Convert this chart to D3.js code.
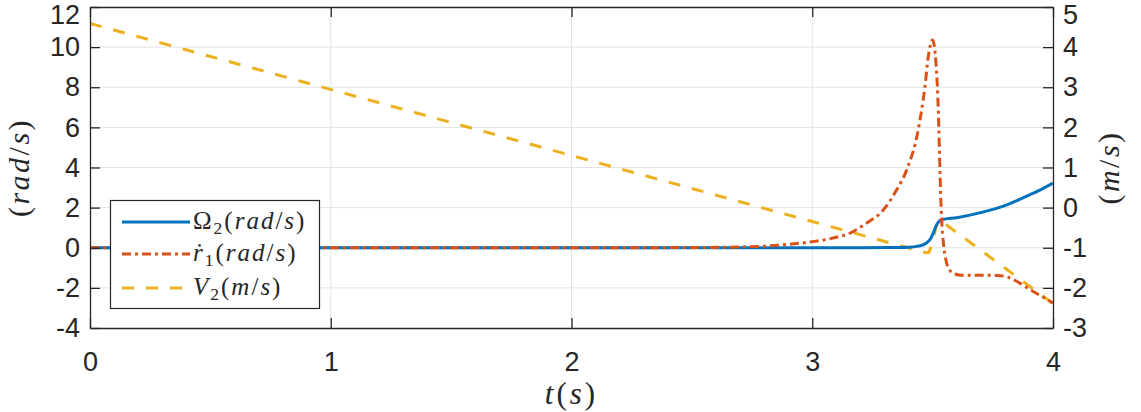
<!DOCTYPE html>
<html>
<head>
<meta charset="utf-8">
<script src="https://cdn.jsdelivr.net/npm/d3@7"></script>
<style>
  html, body { margin: 0; padding: 0; background: #fff; }
  svg { display: block; }
  .tick text { font-family: "Liberation Sans", Arial, Helvetica, sans-serif; font-size: 27px; fill: #262626; }
  .math { font-family: "Liberation Serif", "Times New Roman", serif; fill: #262626; }
</style>
</head>
<body>
<svg id="chart" width="1141" height="412"></svg>
<script>
// ---- Data ----
const xTicks = [0, 1, 2, 3, 4];
const yLeftTicks = [-4, -2, 0, 2, 4, 6, 8, 10, 12];
const yRightTicks = [-3, -2, -1, 0, 1, 2, 3, 4, 5];

// Omega_2 (rad/s), left axis
const omegaT = [0, 1, 2, 3, 3.2, 3.3, 3.4, 3.44, 3.47, 3.49, 3.505, 3.515, 3.525, 3.54, 3.6, 3.7, 3.8, 3.85, 3.9, 3.95, 4.0];
const omegaV = [0, 0, 0, 0, 0.005, 0.01, 0.03, 0.08, 0.2, 0.42, 0.8, 1.1, 1.3, 1.4, 1.5, 1.75, 2.1, 2.35, 2.62, 2.9, 3.22];

// r-dot_1 (rad/s), left axis
const rdotT = [0, 1, 2, 2.5, 2.7, 2.8, 2.9, 3.0, 3.1, 3.157, 3.226, 3.295, 3.35, 3.392, 3.44, 3.468, 3.482, 3.5, 3.514, 3.524, 3.531, 3.537, 3.545, 3.555, 3.57, 3.59, 3.62, 3.7, 3.77, 3.82, 3.86, 3.9, 3.95, 4.0];
const rdotV = [0, 0, 0, 0.01, 0.04, 0.08, 0.17, 0.3, 0.52, 0.73, 1.23, 1.88, 2.88, 3.87, 5.87, 8.03, 9.52, 10.36, 9.19, 6.7, 3.6, 1.5, 0.2, -0.6, -1.1, -1.3, -1.37, -1.37, -1.38, -1.5, -1.75, -2.05, -2.4, -2.76];

// V_2 (m/s), right axis
const vT = [0, 3.47, 3.485, 3.5, 3.515, 3.53, 4.0];
const vV = [4.59, -1.12, -1.12, -0.85, -0.45, -0.31, -2.39];

const legendLabels = ["Ω2", "ṙ1", "V2"];

// ---- Layout ----
const svg = d3.select("#chart");
const L = 90, R = 1053, T = 7, B = 328;
const x = d3.scaleLinear().domain([0, 4]).range([L, R]);
const yL = d3.scaleLinear().domain([-4, 12]).range([B, T]);
const yR = d3.scaleLinear().domain([-3, 5]).range([B, T]);

const axisColor = "#262626";
const gridColor = "#e3e3e3";
const fmt = d => String(d);

// grid
const grid = svg.append("g");
grid.selectAll("line.gx").data(xTicks.slice(1, -1)).join("line")
  .attr("x1", d => x(d)).attr("x2", d => x(d)).attr("y1", T).attr("y2", B)
  .attr("stroke", gridColor).attr("stroke-width", 1);
grid.selectAll("line.gy").data(yLeftTicks.slice(1, -1)).join("line")
  .attr("x1", L).attr("x2", R).attr("y1", d => yL(d)).attr("y2", d => yL(d))
  .attr("stroke", gridColor).attr("stroke-width", 1);

// clip
svg.append("clipPath").attr("id", "clip").append("rect")
  .attr("x", L).attr("y", T).attr("width", R - L).attr("height", B - T);

const plot = svg.append("g").attr("clip-path", "url(#clip)");
const lineL = d3.line().x(d => x(d[0])).y(d => yL(d[1])).curve(d3.curveMonotoneX);
const lineR = d3.line().x(d => x(d[0])).y(d => yR(d[1]));

const colors = ["#0072BD", "#D95319", "#EDB120"];
const dashes = [null, "9,4,3,4", "12,12"];

plot.append("path").datum(d3.zip(vT, vV)).attr("d", lineR)
  .attr("fill", "none").attr("stroke", colors[2]).attr("stroke-width", 3)
  .attr("stroke-dasharray", dashes[2]);
plot.append("path").datum(d3.zip(omegaT, omegaV)).attr("d", lineL)
  .attr("fill", "none").attr("stroke", colors[0]).attr("stroke-width", 3);
plot.append("path").datum(d3.zip(rdotT, rdotV)).attr("d", lineL)
  .attr("fill", "none").attr("stroke", colors[1]).attr("stroke-width", 3)
  .attr("stroke-dasharray", dashes[1]);

// axes
function styleAxis(g) {
  g.select(".domain").attr("stroke", axisColor).attr("stroke-width", 1.3);
  g.selectAll(".tick line").attr("stroke", axisColor).attr("stroke-width", 1.3);
}
const gB = svg.append("g").attr("transform", `translate(0,${B})`)
  .call(d3.axisBottom(x).tickValues(xTicks).tickFormat(fmt).tickSizeInner(-10).tickSizeOuter(0).tickPadding(24));
styleAxis(gB);
const gT = svg.append("g").attr("transform", `translate(0,${T})`)
  .call(d3.axisTop(x).tickValues(xTicks).tickFormat("").tickSizeInner(-10).tickSizeOuter(0));
styleAxis(gT);
const gLft = svg.append("g").attr("transform", `translate(${L},0)`)
  .call(d3.axisLeft(yL).tickValues(yLeftTicks).tickFormat(fmt).tickSizeInner(-10).tickSizeOuter(0).tickPadding(10));
styleAxis(gLft);
const gRt = svg.append("g").attr("transform", `translate(${R},0)`)
  .call(d3.axisRight(yR).tickValues(yRightTicks).tickFormat(fmt).tickSizeInner(-10).tickSizeOuter(0).tickPadding(10));
styleAxis(gRt);
// keep the topmost labels inside the picture, as in the reference
gLft.selectAll(".tick text").filter(d => d === 12).attr("dy", "0.6em");
gRt.selectAll(".tick text").filter(d => d === 5).attr("dy", "0.6em");

// math-style text helper
function mathText(sel, parts) {
  parts.forEach(([t, s]) => {
    const ts = sel.append("tspan").text(t);
    if (s === "i") ts.attr("font-style", "italic");
    if (s === "s") ts.attr("font-size", "0.7em").attr("dy", "0.28em");
    if (s === "r") ts.attr("dy", "-0.2em");
  });
}

// axis labels
const xl = svg.append("text").attr("class", "math").attr("x", x(2)).attr("y", 404)
  .attr("text-anchor", "middle").attr("font-size", 31).attr("letter-spacing", 3);
mathText(xl, [["t", "i"], ["(", "n"], ["s", "i"], [")", "n"]]);

const ylL = svg.append("text").attr("class", "math").attr("text-anchor", "middle")
  .attr("font-size", 30).attr("letter-spacing", 2.5)
  .attr("transform", `translate(29,${(T + B) / 2}) rotate(-90)`);
mathText(ylL, [["(", "n"], ["rad", "i"], ["/", "n"], ["s", "i"], [")", "n"]]);

const ylR = svg.append("text").attr("class", "math").attr("text-anchor", "middle")
  .attr("font-size", 30).attr("letter-spacing", 2.5)
  .attr("transform", `translate(1119,${(T + B) / 2}) rotate(-90)`);
mathText(ylR, [["(", "n"], ["m", "i"], ["/", "n"], ["s", "i"], [")", "n"]]);

// legend
const lg = svg.append("g");
lg.append("rect").attr("x", 110.5).attr("y", 200.5).attr("width", 209).attr("height", 108)
  .attr("fill", "#fff").attr("stroke", axisColor).attr("stroke-width", 1.2);
const rowsY = [222, 254, 288];
const legendParts = [
  [[legendLabels[0][0], "n"], [legendLabels[0][1], "s"], ["(", "r"], ["rad", "i"], ["/", "n"], ["s", "i"], [")", "n"]],
  [[legendLabels[1][0], "i"], [legendLabels[1][1], "s"], ["(", "r"], ["rad", "i"], ["/", "n"], ["s", "i"], [")", "n"]],
  [[legendLabels[2][0], "i"], [legendLabels[2][1], "s"], ["(", "r"], ["m", "i"], ["/", "n"], ["s", "i"], [")", "n"]]
];
rowsY.forEach((yy, i) => {
  lg.append("line").attr("x1", 122).attr("x2", 190).attr("y1", yy).attr("y2", yy)
    .attr("stroke", colors[i]).attr("stroke-width", 3)
    .attr("stroke-dasharray", dashes[i]);
  const t = lg.append("text").attr("class", "math").attr("x", 193).attr("y", yy + 7)
    .attr("font-size", 25).attr("letter-spacing", 2);
  mathText(t, legendParts[i]);
});
</script>
</body>
</html>
